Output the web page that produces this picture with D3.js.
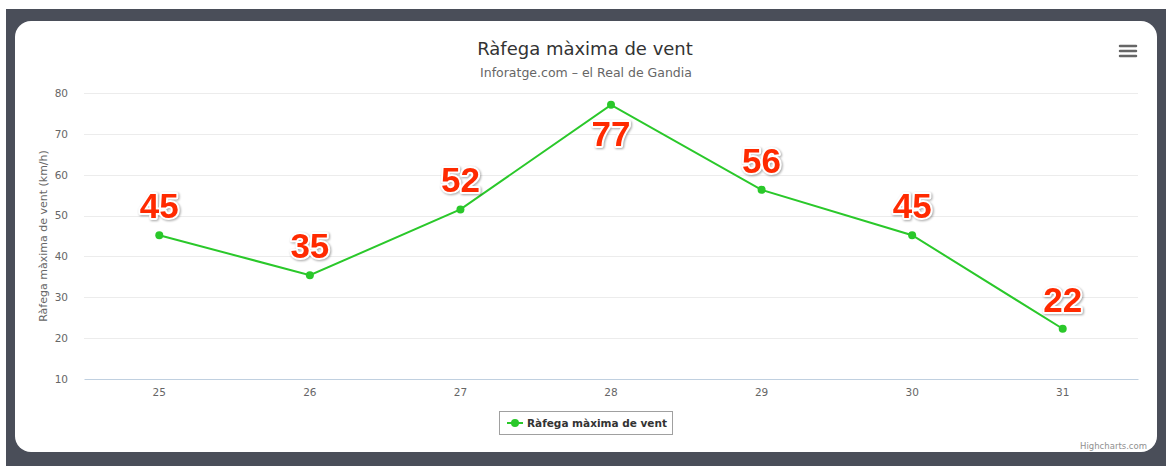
<!DOCTYPE html>
<html>
<head>
<meta charset="utf-8">
<script src="https://cdn.jsdelivr.net/npm/d3@7"></script>
<style>
  html, body { margin: 0; padding: 0; background: #fff; }
  svg { display: block; }
  .lbl { paint-order: stroke; filter: drop-shadow(1px 1px 1px rgba(0,0,0,0.35)); }
</style>
</head>
<body>
<svg></svg>
<script>
const width = 1166;
const height = 466;

const days = ['25', '26', '27', '28', '29', '30', '31'];
const gusts = [45.2, 35.4, 51.5, 77.1, 56.3, 45.2, 22.3];
const gustLabels = ['45', '35', '52', '77', '56', '45', '22'];
const yTicks = [10, 20, 30, 40, 50, 60, 70, 80];

const font = '"DejaVu Sans", Verdana, sans-serif';
const green = '#2ac82a';

const margin = { top: 93, right: 28, bottom: 87, left: 84 };
const innerWidth = width - margin.left - margin.right;
const innerHeight = height - margin.top - margin.bottom;

const svg = d3.select('svg')
    .attr('width', width)
    .attr('height', height)
    .style('font-family', font);

// dark frame and white card
svg.append('rect')
    .attr('x', 6).attr('y', 9)
    .attr('width', width - 6).attr('height', height - 9)
    .attr('fill', '#4a4e59');
svg.append('rect')
    .attr('x', 15).attr('y', 21)
    .attr('width', 1142).attr('height', 431)
    .attr('rx', 16)
    .attr('fill', '#fff');

const g = svg.append('g')
    .attr('transform', `translate(${margin.left}, ${margin.top})`);

const x = d3.scaleBand().domain(days).range([0, innerWidth]);
const y = d3.scaleLinear().domain([10, 80]).range([innerHeight, 0]);

// gridlines
g.selectAll('.grid')
    .data(yTicks.slice(1))
    .enter()
    .append('line')
    .attr('x1', 0).attr('x2', innerWidth)
    .attr('y1', d => Math.round(y(d)) + 0.5)
    .attr('y2', d => Math.round(y(d)) + 0.5)
    .attr('stroke', '#ececec');

const yAxis = g.append('g')
    .call(d3.axisLeft(y).tickValues(yTicks).tickSize(0).tickPadding(16))
yAxis.select('.domain').remove();
yAxis.selectAll('text')
    .attr('font-family', font)
    .attr('font-size', 10.5)
    .attr('fill', '#666');

const xAxis = g.append('g')
    .attr('transform', `translate(0, ${innerHeight})`)
    .call(d3.axisBottom(x).tickSize(0).tickPadding(10))
xAxis.select('.domain').attr('stroke', '#c0d0e0');
xAxis.selectAll('text')
    .attr('font-family', font)
    .attr('font-size', 10.5)
    .attr('fill', '#666');

// axis title
svg.append('text')
    .attr('transform', `translate(47, ${margin.top + innerHeight / 2}) rotate(-90)`)
    .attr('text-anchor', 'middle')
    .attr('font-size', 11)
    .attr('fill', '#666')
    .text('Ràfega màxima de vent (km/h)');

// title + subtitle
svg.append('text')
    .attr('x', 585).attr('y', 55)
    .attr('text-anchor', 'middle')
    .attr('font-size', 18)
    .attr('fill', '#333')
    .text('Ràfega màxima de vent');
svg.append('text')
    .attr('x', 586).attr('y', 77)
    .attr('text-anchor', 'middle')
    .attr('font-size', 12.5)
    .attr('fill', '#666')
    .text('Inforatge.com – el Real de Gandia');

// line
const line = d3.line()
    .x((d, i) => x(days[i]) + x.bandwidth() / 2)
    .y(d => y(d));

g.append('path')
    .datum(gusts)
    .attr('d', line)
    .attr('fill', 'none')
    .attr('stroke', green)
    .attr('stroke-width', 2);

g.selectAll('.dot')
    .data(gusts)
    .enter()
    .append('circle')
    .attr('cx', (d, i) => x(days[i]) + x.bandwidth() / 2)
    .attr('cy', d => y(d))
    .attr('r', 4)
    .attr('fill', green);

// data labels, flipped under the point when they would leave the plot
g.selectAll('.lbl')
    .data(gusts)
    .enter()
    .append('text')
    .attr('class', 'lbl')
    .attr('x', (d, i) => x(days[i]) + x.bandwidth() / 2)
    .attr('y', d => y(d) - 42 < 0 ? y(d) + 41 : y(d) - 17)
    .attr('text-anchor', 'middle')
    .attr('font-family', 'Arial, "Liberation Sans", sans-serif')
    .attr('font-weight', 'bold')
    .attr('font-size', 35)
    .attr('fill', '#ff2a00')
    .attr('stroke', '#fff')
    .attr('stroke-width', 4)
    .attr('stroke-linejoin', 'round')
    .text((d, i) => gustLabels[i]);

// legend
const legend = svg.append('g').attr('transform', 'translate(499, 411)');
legend.append('rect')
    .attr('x', 0.5).attr('y', 0.5)
    .attr('width', 173).attr('height', 23)
    .attr('fill', '#fff')
    .attr('stroke', '#a0a0a0');
legend.append('line')
    .attr('x1', 8).attr('x2', 24)
    .attr('y1', 12).attr('y2', 12)
    .attr('stroke', green).attr('stroke-width', 2);
legend.append('circle')
    .attr('cx', 16).attr('cy', 12).attr('r', 4)
    .attr('fill', green);
legend.append('text')
    .attr('x', 28).attr('y', 16)
    .attr('font-size', 10.5)
    .attr('font-weight', 'bold')
    .attr('fill', '#333')
    .text('Ràfega màxima de vent');

// menu icon
svg.append('g')
    .selectAll('line')
    .data([0, 1, 2])
    .enter()
    .append('line')
    .attr('x1', 1120).attr('x2', 1136)
    .attr('y1', d => 46 + d * 5).attr('y2', d => 46 + d * 5)
    .attr('stroke', '#666')
    .attr('stroke-width', 2.5)
    .attr('stroke-linecap', 'round');

svg.append('text')
    .attr('x', 1147).attr('y', 449)
    .attr('text-anchor', 'end')
    .attr('font-size', 8.5)
    .attr('fill', '#909090')
    .text('Highcharts.com');
</script>
</body>
</html>
